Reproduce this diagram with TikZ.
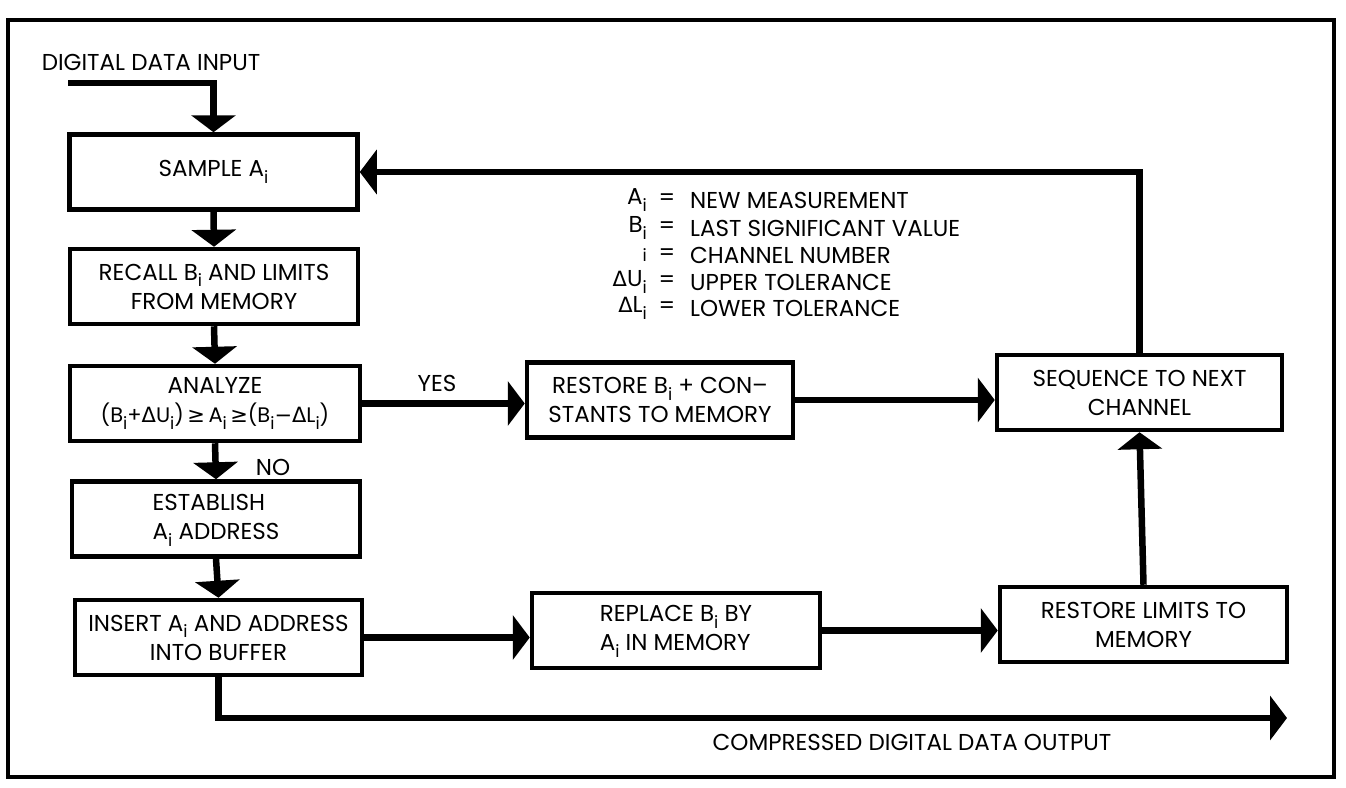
\documentclass[tikz,border=0pt]{standalone}
\usepackage{fontspec}
\setmainfont{Poppins}
\newfontfamily\dejavu{DejaVu Sans}
\usetikzlibrary{arrows.meta}
\newcommand{\subi}{\raisebox{-0.55ex}{\fontsize{17}{17}\selectfont i}}
\newcommand{\Dl}{{\dejavu\fontsize{21}{21}\selectfont Δ}}
\begin{document}
\begin{tikzpicture}[x=1pt,y=-1pt,
  every node/.style={font=\fontsize{23}{29}\selectfont, inner sep=0pt},
  box/.style={draw, line width=4.5pt, align=center, minimum width=#1, minimum height=75pt},
  box/.default=288pt,
  conn/.style={line width=6.5pt, -{Triangle[width=44pt,length=17pt]}},
  plain/.style={line width=6.5pt}]
\useasboundingbox (0,0) rectangle (1346,787);
\draw[line width=4pt] (8,20) rectangle (1334,777);

\node[box] (sample) at (213.5,172) {SAMPLE A\subi};
\node[box] (recall) at (214,286.5) {RECALL B\subi\ AND LIMITS\\FROM MEMORY};
\node[box=290pt] (analyze) at (215,403.5) {ANALYZE\\{\fontsize{21}{29}\selectfont(B\subi{+}\Dl U\subi)\,{\dejavu ≥}\,A\subi\,{\dejavu ≥}(B\subi{\dejavu −}\Dl L\subi)}};
\node[box] (establish) at (216,519) {\begin{tabular}{@{}l@{}}ESTABLISH\\A\subi\ ADDRESS\end{tabular}};
\node[box=287pt] (insert) at (218.5,637.5) {INSERT A\subi\ AND ADDRESS\\INTO BUFFER};
\node[box=266pt] (restoreB) at (660,400) {RESTORE B\subi\ + CON–\\STANTS TO MEMORY};
\node[box] (replace) at (676,630.5) {\begin{tabular}{@{}l@{}}REPLACE B\subi\ BY\\A\subi\ IN MEMORY\end{tabular}};
\node[box=285pt] (sequence) at (1139.5,392.5) {SEQUENCE TO NEXT\\CHANNEL};
\node[box=287pt] (restoreL) at (1143.5,624.5) {RESTORE LIMITS TO\\MEMORY};

\node (inlabel) at (151,62) {DIGITAL DATA INPUT};
\node (outlabel) at (912,742) {COMPRESSED DIGITAL DATA OUTPUT};
\node (yes) at (437,383) {YES};
\node (no) at (273,467) {NO};

% legend
\node[anchor=east] (l1s) at (647,200) {A\subi};
\node[anchor=east] (l2s) at (647,228) {B\subi};
\node[anchor=east] (l3s) at (647,255) {\subi};
\node[anchor=east] (l4s) at (647,282) {\Dl U\subi};
\node[anchor=east] (l5s) at (647,308) {\Dl L\subi};
\foreach \y/\n in {200/1,228/2,255/3,282/4,308/5}{\node (eq\n) at (667,\y) {=};}
\node[anchor=west] (l1) at (690,200) {NEW MEASUREMENT};
\node[anchor=west] (l2) at (690,228) {LAST SIGNIFICANT VALUE};
\node[anchor=west] (l3) at (690,255) {CHANNEL NUMBER};
\node[anchor=west] (l4) at (690,282) {UPPER TOLERANCE};
\node[anchor=west] (l5) at (690,308) {LOWER TOLERANCE};

\coordinate (in0) at (68,83);
\coordinate (out) at (1287,718);
\draw[conn] (in0) -| (sample.north);
\draw[conn] (sample.south) -- (recall.north);
\draw[conn] (recall.south) -- (analyze.north);
\draw[conn] (analyze.south) -- (establish.north);
\draw[conn] (establish.south) -- (insert.north);
\draw[conn] (analyze.east) -- (analyze.east -| restoreB.west);
\draw[conn] (restoreB.east) -- (restoreB.east -| sequence.west);
\draw[conn] (sequence.north) |- (sample.east);
\draw[conn] (insert.east) -- (insert.east -| replace.west);
\draw[conn] (replace.east) -- (replace.east -| restoreL.west);
\draw[conn] (restoreL.north) -- (sequence.south);
\draw[conn] (insert.south) |- (out);
\end{tikzpicture}
\end{document}
